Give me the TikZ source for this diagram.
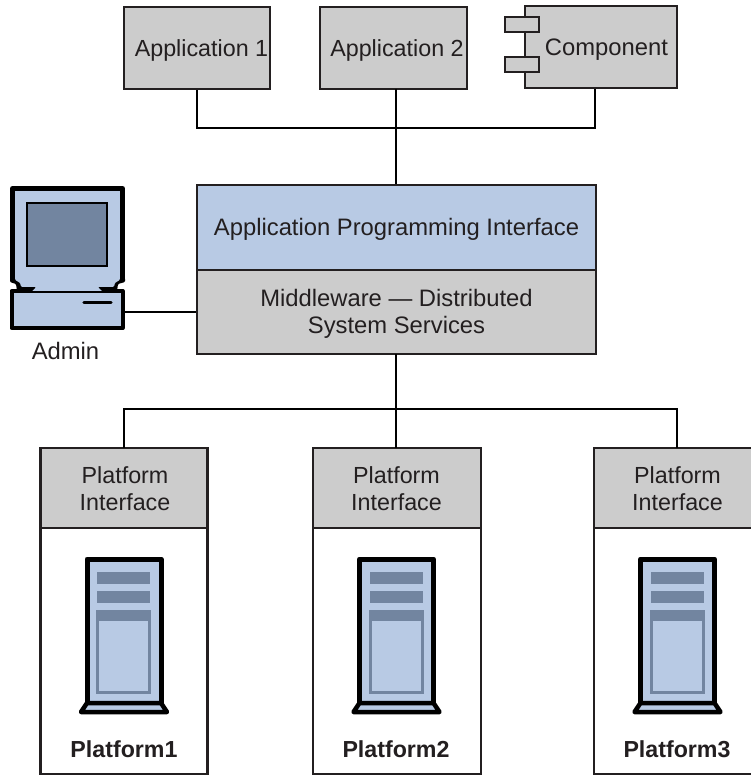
\documentclass[tikz,border=0pt]{standalone}
\usepackage{fontspec}
\setmainfont{Liberation Sans}
\definecolor{gbox}{HTML}{CCCCCC}
\definecolor{lblue}{HTML}{B8CAE4}
\definecolor{dblue}{HTML}{7285A0}
\definecolor{ink}{HTML}{231F20}
\tikzset{
 boxs/.style={draw=ink,line width=2.4pt,fill=gbox,rectangle,inner sep=0pt},
 wire/.style={draw=black,line width=2.4pt},
 lab/.style={font=\fontsize{23.8}{27}\selectfont,text=ink,align=center,inner sep=0pt},
 labs/.style={font=\fontsize{23.3}{27}\selectfont,text=ink,align=center,inner sep=0pt},
 blab/.style={font=\fontsize{23.2}{27}\selectfont\bfseries,text=ink,inner sep=0pt},
}
\newcommand{\serverat}[1]{%
 \begin{scope}[shift={(#1,0)}]
  \fill[lblue] (87,559) rectangle (161,703);
  \draw[black,line width=5pt,line join=round] (87,705) -- (87,559) -- (161,559) -- (161,705);
  \draw[black,line width=4.5pt,line join=round,fill=lblue] (87,703) -- (81,712) -- (167,712) -- (161,703) -- cycle;
  \fill[dblue] (97,572) rectangle (150,584);
  \fill[dblue] (97,591) rectangle (150,603);
  \fill[dblue] (96,610) rectangle (151,694);
  \fill[lblue] (99,621) rectangle (148,691);
 \end{scope}}
\begin{document}
\begin{tikzpicture}[x=1pt,y=-1pt]
\useasboundingbox (0,0) rectangle (750,775);
% top row
\node[boxs,minimum width=146pt,minimum height=82pt] (app1) at (197,48) {};
\node[labs] at (201.5,50) {Application 1};
\node[boxs,minimum width=147pt,minimum height=82pt] (app2) at (393.5,48) {};
\node[labs] at (397,50) {Application 2};
\node[boxs,minimum width=152pt,minimum height=82pt] (comp) at (601,47) {};
\node[boxs,minimum width=34pt,minimum height=15pt] (tab1) at (522,24.5) {};
\node[boxs,minimum width=34pt,minimum height=15pt] (tab2) at (522,64.5) {};
\node[lab] at (606.5,50) {Component};
% middle
\node[boxs,fill=lblue,minimum width=399pt,minimum height=85pt] (api) at (396.5,227.5) {};
\node[lab] at (396.5,229) {Application Programming Interface};
\node[boxs,minimum width=399pt,minimum height=84pt] (mw) at (396.5,312) {};
\node[lab] at (396.5,314) {Middleware — Distributed\\System Services};
% connectors top
\coordinate (bus1) at (396,128);
\draw[wire] (app1.south -| 197,0) |- (bus1);
\draw[wire] (comp.south -| 595,0) |- (bus1);
\draw[wire] (396,89) -- (bus1) -- (api.north -| 396,0);
% platforms
\node[boxs,fill=white,minimum width=167pt,minimum height=326pt] (p1) at (124,611) {};
\node[boxs,fill=white,minimum width=168pt,minimum height=326pt] (p2) at (397,611) {};
\node[boxs,fill=white,minimum width=160pt,minimum height=326pt] (p3) at (674,611) {};
\node[boxs,minimum width=167pt,minimum height=80pt] (i1) at (124,488) {};
\node[boxs,minimum width=168pt,minimum height=80pt] (i2) at (397,488) {};
\node[boxs,minimum width=160pt,minimum height=80pt] (i3) at (674,488) {};
\node[labs] at (125,489) {Platform\\Interface};
\node[labs] at (396.5,489) {Platform\\Interface};
\node[labs] at (677.5,489) {Platform\\Interface};
\coordinate (bus2) at (396,409);
\draw[wire] (396,354) -- (bus2) -- (396,448);
\draw[wire] (124,448) |- (bus2);
\draw[wire] (677,448) |- (bus2);
\serverat{0}
\serverat{272.5}
\serverat{553.5}
\node[blab] at (124,749) {Platform1};
\node[blab] at (396,749) {Platform2};
\node[blab] at (677,749) {Platform3};
% admin
\fill[lblue] (12,188) rectangle (122,282) (18,280) rectangle (116,292);
\fill[lblue] (12,291) rectangle (122,328);
\draw[black,line width=5pt,line join=round] (12.5,280) -- (12.5,188.5) -- (122.5,188.5) -- (122.5,280);
\fill[black,rounded corners=1pt] (10,278) -- (15,278) -- (15,280) -- (20,283) -- (21,287) -- (36,287) -- (31,292) -- (17,291) -- (16,284) -- (10,282) -- cycle;
\fill[black,rounded corners=1pt] (125,278) -- (120,278) -- (120,280) -- (115,283) -- (114,287) -- (98,287) -- (103,292) -- (117,291) -- (118,284) -- (125,282) -- cycle;
\draw[black,line width=2pt,fill=dblue] (27,203) rectangle (107,266);
\draw[black,line width=4pt,line join=round] (31,291) -- (11.5,291) -- (11.5,328) -- (122.5,328) -- (122.5,291) -- (103,291);
\draw[black,line width=1.2pt] (29,292) -- (106,292);
\draw[black,line width=3.4pt,line cap=round] (84,302.5) -- (111,302.5);
\coordinate (pc) at (124,312);
\draw[wire] (pc) -- (mw.west |- pc);
\node[lab] at (65.5,351) {Admin};
\end{tikzpicture}
\end{document}
